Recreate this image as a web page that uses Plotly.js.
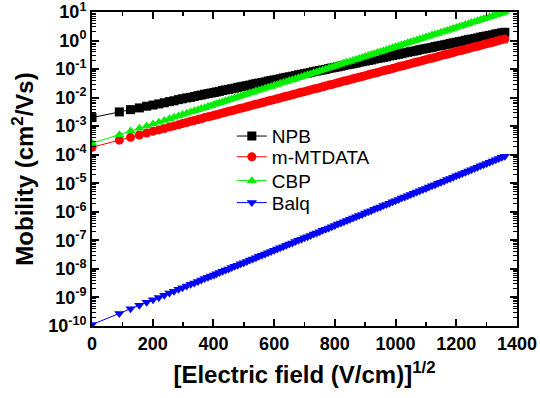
<!DOCTYPE html>
<html>
<head>
<meta charset="utf-8">
<script src="https://cdn.plot.ly/plotly-3.0.1.min.js"></script>
<style>html,body{margin:0;padding:0;background:#fff;}#chart{width:540px;height:398px;}</style>
</head>
<body>
<div id="chart"></div>
<script>
// x: square root of electric field [(V/cm)^1/2]
const fieldSqrt = [0, 90, 127, 156, 180, 201, 220, 238, 255, 270, 285, 298, 312, 325, 337, 349, 360, 371, 382, 392, 402,
  410, 420, 430, 440, 450, 460, 470, 480, 490, 500, 510, 520, 530, 540, 550, 560, 570, 580, 590, 600,
  610, 620, 630, 640, 650, 660, 670, 680, 690, 700, 710, 720, 730, 740, 750, 760, 770, 780, 790, 800,
  810, 820, 830, 840, 850, 860, 870, 880, 890, 900, 910, 920, 930, 940, 950, 960, 970, 980, 990, 1000,
  1010, 1020, 1030, 1040, 1050, 1060, 1070, 1080, 1090, 1100, 1110, 1120, 1130, 1140, 1150, 1160, 1170, 1180, 1190, 1200,
  1210, 1220, 1230, 1240, 1250, 1260, 1270, 1280, 1290, 1300, 1310, 1320, 1330, 1340, 1350, 1360];

// mobility values stored as log10(cm^2/Vs)
const npbLog = [-2.70, -2.50, -2.42, -2.36, -2.30, -2.26, -2.22, -2.18, -2.14, -2.11, -2.07, -2.04, -2.01, -1.99, -1.96, -1.93, -1.91, -1.88, -1.86, -1.84, -1.82,
  -1.80, -1.78, -1.75, -1.73, -1.71, -1.69, -1.67, -1.64, -1.62, -1.60, -1.58, -1.56, -1.53, -1.51, -1.49, -1.47, -1.45, -1.42, -1.40, -1.38,
  -1.36, -1.34, -1.31, -1.29, -1.27, -1.25, -1.23, -1.20, -1.18, -1.16, -1.14, -1.12, -1.09, -1.07, -1.05, -1.03, -1.01, -0.98, -0.96, -0.94,
  -0.92, -0.90, -0.87, -0.85, -0.83, -0.81, -0.79, -0.76, -0.74, -0.72, -0.70, -0.68, -0.65, -0.63, -0.61, -0.59, -0.57, -0.54, -0.52, -0.50,
  -0.48, -0.46, -0.43, -0.41, -0.39, -0.37, -0.35, -0.32, -0.30, -0.28, -0.26, -0.24, -0.21, -0.19, -0.17, -0.15, -0.13, -0.10, -0.08, -0.06,
  -0.04, -0.02, 0.01, 0.03, 0.05, 0.07, 0.09, 0.12, 0.14, 0.16, 0.18, 0.20, 0.23, 0.25, 0.27, 0.29];
const mtdataLog = [-3.74, -3.49, -3.39, -3.31, -3.24, -3.18, -3.13, -3.08, -3.03, -2.99, -2.95, -2.91, -2.87, -2.83, -2.80, -2.77, -2.74, -2.70, -2.67, -2.65, -2.62,
  -2.60, -2.57, -2.54, -2.51, -2.48, -2.46, -2.43, -2.40, -2.37, -2.35, -2.32, -2.29, -2.26, -2.23, -2.21, -2.18, -2.15, -2.12, -2.09, -2.07,
  -2.04, -2.01, -1.98, -1.95, -1.93, -1.90, -1.87, -1.84, -1.81, -1.79, -1.76, -1.73, -1.70, -1.68, -1.65, -1.62, -1.59, -1.56, -1.54, -1.51,
  -1.48, -1.45, -1.42, -1.40, -1.37, -1.34, -1.31, -1.29, -1.26, -1.23, -1.20, -1.17, -1.15, -1.12, -1.09, -1.06, -1.03, -1.01, -0.98, -0.95,
  -0.92, -0.89, -0.87, -0.84, -0.81, -0.78, -0.75, -0.73, -0.70, -0.67, -0.64, -0.62, -0.59, -0.56, -0.53, -0.50, -0.48, -0.45, -0.42, -0.39,
  -0.36, -0.34, -0.31, -0.28, -0.25, -0.22, -0.20, -0.17, -0.14, -0.11, -0.09, -0.06, -0.03, 0.00, 0.03, 0.05];
const cbpLog = [-3.60, -3.30, -3.17, -3.07, -2.99, -2.92, -2.86, -2.80, -2.74, -2.69, -2.64, -2.59, -2.55, -2.50, -2.46, -2.42, -2.38, -2.35, -2.31, -2.28, -2.24,
  -2.21, -2.18, -2.15, -2.11, -2.08, -2.05, -2.01, -1.98, -1.94, -1.91, -1.88, -1.84, -1.81, -1.77, -1.74, -1.71, -1.67, -1.64, -1.61, -1.57,
  -1.54, -1.50, -1.47, -1.44, -1.40, -1.37, -1.34, -1.30, -1.27, -1.23, -1.20, -1.17, -1.13, -1.10, -1.07, -1.03, -1.00, -0.96, -0.93, -0.90,
  -0.86, -0.83, -0.79, -0.76, -0.73, -0.69, -0.66, -0.63, -0.59, -0.56, -0.52, -0.49, -0.46, -0.42, -0.39, -0.36, -0.32, -0.29, -0.25, -0.22,
  -0.19, -0.15, -0.12, -0.08, -0.05, -0.02, 0.02, 0.05, 0.08, 0.12, 0.15, 0.19, 0.22, 0.25, 0.29, 0.32, 0.35, 0.39, 0.42, 0.46,
  0.49, 0.52, 0.56, 0.59, 0.63, 0.66, 0.69, 0.73, 0.76, 0.79, 0.83, 0.86, 0.90, 0.93, 0.96, 1.00];
const balqLog = [-9.95, -9.56, -9.40, -9.27, -9.17, -9.08, -9.00, -8.92, -8.84, -8.78, -8.71, -8.66, -8.60, -8.54, -8.49, -8.44, -8.39, -8.34, -8.29, -8.25, -8.21,
  -8.17, -8.13, -8.08, -8.04, -8.00, -7.95, -7.91, -7.87, -7.82, -7.78, -7.74, -7.69, -7.65, -7.61, -7.56, -7.52, -7.48, -7.43, -7.39, -7.35,
  -7.30, -7.26, -7.22, -7.17, -7.13, -7.09, -7.04, -7.00, -6.96, -6.91, -6.87, -6.83, -6.78, -6.74, -6.70, -6.65, -6.61, -6.57, -6.52, -6.48,
  -6.43, -6.39, -6.35, -6.30, -6.26, -6.22, -6.17, -6.13, -6.09, -6.04, -6.00, -5.96, -5.91, -5.87, -5.83, -5.78, -5.74, -5.70, -5.65, -5.61,
  -5.57, -5.52, -5.48, -5.44, -5.39, -5.35, -5.31, -5.26, -5.22, -5.18, -5.13, -5.09, -5.05, -5.00, -4.96, -4.92, -4.87, -4.83, -4.79, -4.74,
  -4.70, -4.66, -4.61, -4.57, -4.53, -4.48, -4.44, -4.39, -4.35, -4.31, -4.26, -4.22, -4.18, -4.13, -4.09, -4.05];

const seriesNames = ['NPB', 'm-MTDATA', 'CBP', 'Balq'];

// y-axis decade ticks
const yTickExp = [-10, -9, -8, -7, -6, -5, -4, -3, -2, -1, 0, 1];
const yTickVals = yTickExp.map(e => Math.pow(10, e));
const yTickText = yTickExp.map(e => '10<sup>' + e + '</sup>');
const yMinorVals = [];
for (let e = -10; e < 1; e++) for (let m = 2; m <= 9; m++) yMinorVals.push(m * Math.pow(10, e));

const fam = 'Liberation Sans, Arial, Helvetica, sans-serif';
const legendIds = ['legend', 'legend2', 'legend3', 'legend4'];
const legendTops = [0.665, 0.599, 0.523, 0.453];

const toVal = a => a.map(v => Math.pow(10, v));
const specs = [
  {name: seriesNames[0], y: npbLog, color: '#000000', symbol: 'square'},
  {name: seriesNames[1], y: mtdataLog, color: '#ff0000', symbol: 'circle'},
  {name: seriesNames[2], y: cbpLog, color: '#00ee00', symbol: 'triangle-up'},
  {name: seriesNames[3], y: balqLog, color: '#0000ff', symbol: 'triangle-down'}
];
const traces = specs.map((s, i) => ({
  type: 'scatter', mode: 'lines+markers', name: s.name, legend: legendIds[i],
  x: fieldSqrt, y: toVal(s.y),
  line: {color: s.color, width: 1},
  marker: {color: s.color, symbol: s.symbol, size: 9}
}));

const tickFont = {family: fam, size: 18, color: '#000', weight: 'bold'};
const titleFont = {family: fam, size: 24, color: '#000', weight: 'bold'};

const layout = {
  width: 540, height: 398,
  margin: {l: 92, r: 23, t: 12, b: 72},
  paper_bgcolor: '#fff', plot_bgcolor: '#fff',
  showlegend: true,
  xaxis: {
    range: [0, 1400], dtick: 200, tick0: 0,
    ticks: 'inside', ticklen: 7, tickwidth: 2, tickcolor: '#000',
    minor: {dtick: 100, ticks: 'inside', ticklen: 4, tickwidth: 1.5, tickcolor: '#000'},
    showline: true, linewidth: 2, linecolor: '#000', mirror: 'ticks',
    showgrid: false, zeroline: false,
    tickfont: tickFont, ticklabeloverflow: 'allow',
    title: {text: '[Electric field (V/cm)]<sup>1/2</sup>', font: titleFont, standoff: 14}
  },
  yaxis: {
    type: 'log', range: [-10, 1],
    tickmode: 'array', tickvals: yTickVals, ticktext: yTickText,
    ticks: 'inside', ticklen: 7, tickwidth: 2, tickcolor: '#000',
    minor: {tickmode: 'array', tickvals: yMinorVals, ticks: 'inside', ticklen: 4, tickwidth: 1, tickcolor: '#000'},
    showline: true, linewidth: 2, linecolor: '#000', mirror: 'ticks',
    showgrid: false, zeroline: false,
    tickfont: tickFont, ticklabeloverflow: 'allow',
    title: {text: 'Mobility (cm<sup>2</sup>/Vs)', font: titleFont, standoff: 8}
  }
};
legendIds.forEach((id, i) => {
  layout[id] = {x: 0.329, y: legendTops[i], xanchor: 'left', yanchor: 'top',
    bgcolor: 'rgba(0,0,0,0)', borderwidth: 0,
    font: {family: fam, size: 19, color: '#000'}};
});

Plotly.newPlot('chart', traces, layout, {displayModeBar: false, staticPlot: true});
</script>
</body>
</html>
